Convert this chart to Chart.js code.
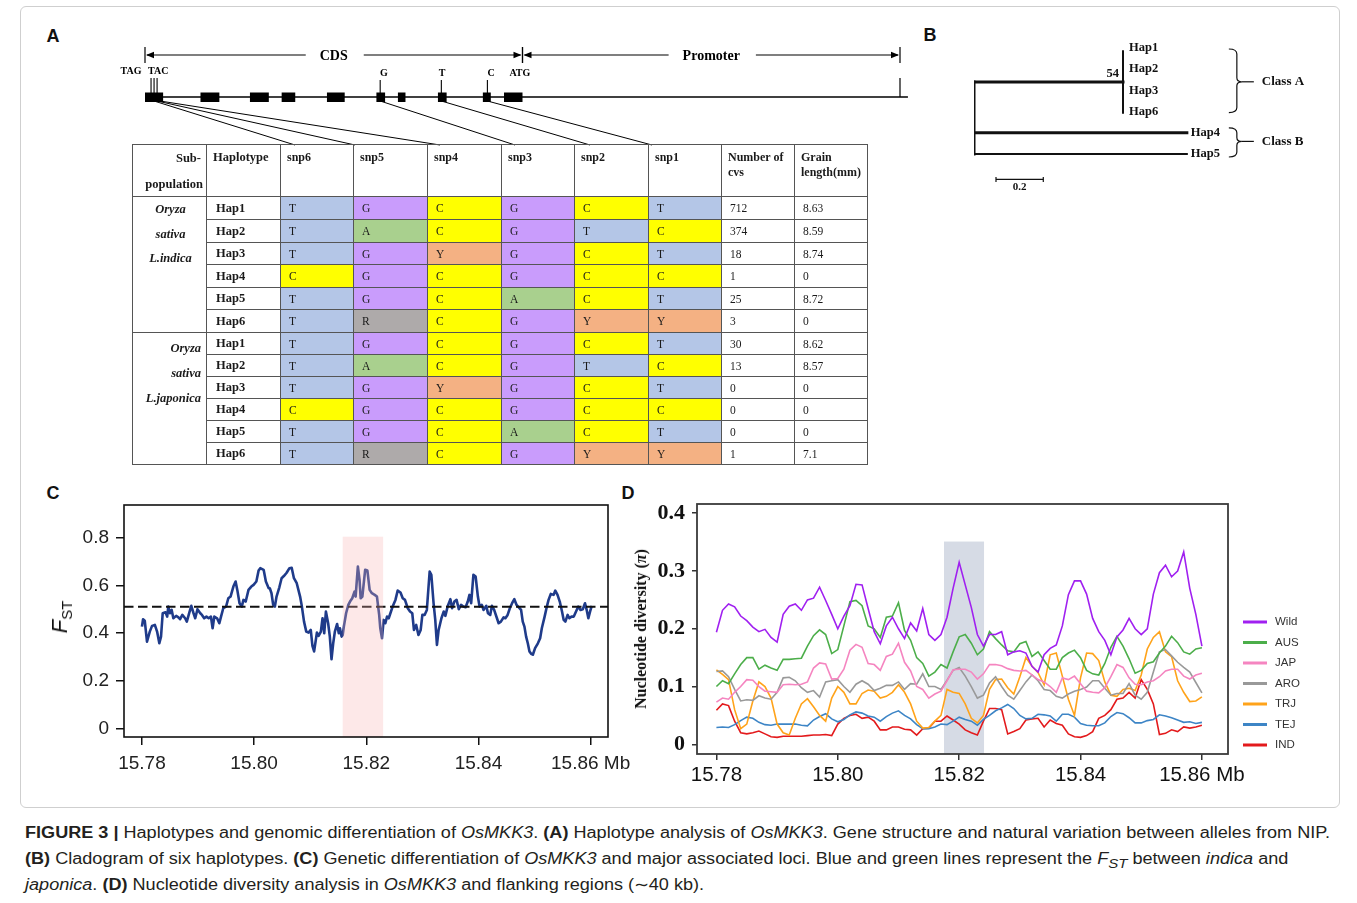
<!DOCTYPE html>
<html><head><meta charset="utf-8">
<script src="https://cdn.jsdelivr.net/npm/chart.js"></script>
<style>
html,body{margin:0;padding:0;background:#fff;}
body{width:1357px;height:903px;position:relative;overflow:hidden;font-family:'Liberation Sans',Arial,sans-serif;}
canvas{position:absolute;}
sub{line-height:0;}
.frame{position:absolute;left:20px;top:6px;width:1320px;height:802px;border:1px solid #cfcfcf;border-radius:6px;box-sizing:border-box;}
.plabel{position:absolute;font:bold 18px 'Liberation Sans',Arial,sans-serif;color:#111;transform:translate(-50%,-50%);}
#tbl{position:absolute;left:132px;top:144px;display:grid;
 grid-template-columns:74px 74px 73px 74px 74px 73px 74px 73px 73px 73px;
 grid-template-rows:52px 23px 23px 22px 23px 22px 23px 22px 22px 22px 22px 22px 22px;
 border-left:1px solid #555;border-top:1px solid #555;font-family:'Liberation Serif',serif;color:#1a1a1a;}
#tbl div.c{border-right:1px solid #555;border-bottom:1px solid #555;box-sizing:border-box;display:flex;align-items:center;padding-left:8px;font-size:11.5px;}
#tbl div.h{border-right:1px solid #555;border-bottom:1px solid #555;box-sizing:border-box;font-weight:bold;font-size:12px;line-height:15px;padding:5px 4px 0 6px;}
#tbl div.hap{font-weight:bold;font-size:12.5px;padding-left:9px;}
#tbl div.sub{border-right:1px solid #555;border-bottom:1px solid #555;box-sizing:border-box;font-weight:bold;font-style:italic;font-size:12.5px;}
#cap{position:absolute;left:25px;top:820px;transform-origin:0 0;font-size:16px;line-height:26px;color:#231f20;font-family:'Liberation Sans Narrow','Liberation Sans',Arial,sans-serif;white-space:nowrap;}
#cap div{height:26px;}
</style>
</head>
<body>
<div class="frame"></div>
<div class="plabel" style="left:53px;top:36px">A</div>
<div class="plabel" style="left:930px;top:35px">B</div>
<div class="plabel" style="left:53px;top:493px">C</div>
<div class="plabel" style="left:628px;top:493px">D</div>

<canvas id="gene" width="830" height="120" style="left:100px;top:30px"></canvas>
<canvas id="tree" width="400" height="170" style="left:940px;top:30px"></canvas>
<div id="tbl"></div>
<canvas id="fst" width="620" height="290" style="left:30px;top:495px"></canvas>
<canvas id="pi" width="720" height="300" style="left:620px;top:495px"></canvas>

<div style="position:absolute;left:60px;top:617px;transform:translate(-50%,-50%) rotate(-90deg);font:22px 'Liberation Sans',Arial;color:#111;white-space:nowrap;"><i>F</i><sub style="font-size:15px;">ST</sub></div>
<div style="position:absolute;left:641px;top:629px;transform:translate(-50%,-50%) rotate(-90deg);font:bold 16px 'Liberation Serif',serif;color:#111;white-space:nowrap;">Nucleotide diversity (<i>π</i>)</div>

<div id="cap">
<div><span id="cap1"><b>FIGURE 3 |</b> Haplotypes and genomic differentiation of <i>OsMKK3</i>. <b>(A)</b> Haplotype analysis of <i>OsMKK3</i>. Gene structure and natural variation between alleles from NIP.</span></div>
<div><span><b>(B)</b> Cladogram of six haplotypes. <b>(C)</b> Genetic differentiation of <i>OsMKK3</i> and major associated loci. Blue and green lines represent the <i>F<sub>ST</sub></i> between <i>indica</i> and</span></div>
<div><span><i>japonica</i>. <b>(D)</b> Nucleotide diversity analysis in <i>OsMKK3</i> and flanking regions (∼40 kb).</span></div>
</div>

<script>
// ---------------- DATA ----------------
// Panel A: gene structure (relative units: CDS 0-1000, promoter 1000-2000)
const regionLabels = ['CDS', 'Promoter'];
const cdsRange = [0, 1000];
const promoterRange = [1000, 2000];
const geneLineEnd = 2021;
const exonStart = [0, 147, 278, 362, 482, 613, 670, 776, 895, 951];
const exonEnd   = [48, 197, 328, 398, 529, 636, 690, 799, 916, 1000];
const snpNames  = ['snp6', 'snp5', 'snp4', 'snp3', 'snp2', 'snp1'];
const snpGenePos = [16, 24, 32, 623, 785, 907];
const codonText = ['TAG', 'TAC', 'G', 'T', 'C', 'ATG'];
const codonPos  = [-37, 35, 633, 787, 917, 993];

// Panel A: haplotype table
const hapNames = ['Hap1', 'Hap2', 'Hap3', 'Hap4', 'Hap5', 'Hap6'];
const hapAlleles = [
  ['T','G','C','G','C','T'],
  ['T','A','C','G','T','C'],
  ['T','G','Y','G','C','T'],
  ['C','G','C','G','C','C'],
  ['T','G','C','A','C','T'],
  ['T','R','C','G','Y','Y']
];
const indicaCvs = ['712','374','18','1','25','3'];
const indicaGrain = ['8.63','8.59','8.74','0','8.72','0'];
const japonicaCvs = ['30','13','0','0','0','1'];
const japonicaGrain = ['8.62','8.57','0','0','0','7.1'];

// Panel B: cladogram
const treeLeaves = ['Hap1', 'Hap2', 'Hap3', 'Hap6', 'Hap4', 'Hap5'];
const classAMembers = ['Hap1', 'Hap2', 'Hap3', 'Hap6'];
const classBMembers = ['Hap4', 'Hap5'];
const classAStem = 0.63;
const hap4Length = 0.9;
const hap5Length = 0.9;
const bootstrapA = 54;
const scaleBarLength = 0.2;

// Panel C: FST along the region
const fstXTicks = [15.78, 15.80, 15.82, 15.84, 15.86];
const fstYTicks = [0, 0.2, 0.4, 0.6, 0.8];
const fstThreshold = 0.51;
const fstHighlight = [15.8158, 15.8230];
const fstPos = [15.7800,15.7802,15.7805,15.7809,15.7814,15.7818,15.7823,15.7827,15.7831,15.7834,15.7837,15.7842,15.7845,15.7847,15.7850,15.7853,15.7856,15.7861,15.7865,15.7868,15.7872,15.7877,15.7880,15.7885,15.7888,15.7892,15.7895,15.7899,15.7904,15.7907,15.7911,15.7915,15.7919,15.7923,15.7926,15.7929,15.7934,15.7938,15.7941,15.7945,15.7950,15.7954,15.7958,15.7963,15.7967,15.7970,15.7974,15.7978,15.7981,15.7985,15.7990,15.7995,15.7999,15.8004,15.8008,15.8011,15.8017,15.8021,15.8026,15.8028,15.8031,15.8034,15.8037,15.8040,15.8045,15.8049,15.8053,15.8058,15.8063,15.8067,15.8071,15.8076,15.8082,15.8085,15.8089,15.8093,15.8097,15.8101,15.8104,15.8107,15.8112,15.8115,15.8119,15.8122,15.8125,15.8128,15.8132,15.8135,15.8138,15.8141,15.8144,15.8148,15.8151,15.8153,15.8156,15.8158,15.8160,15.8164,15.8168,15.8171,15.8175,15.8179,15.8181,15.8185,15.8188,15.8190,15.8193,15.8198,15.8202,15.8206,15.8210,15.8215,15.8219,15.8223,15.8225,15.8228,15.8231,15.8234,15.8237,15.8240,15.8243,15.8247,15.8252,15.8256,15.8261,15.8265,15.8269,15.8274,15.8278,15.8282,15.8285,15.8289,15.8293,15.8297,15.8300,15.8304,15.8308,15.8313,15.8316,15.8320,15.8323,15.8326,15.8329,15.8334,15.8338,15.8341,15.8345,15.8350,15.8353,15.8357,15.8361,15.8365,15.8369,15.8373,15.8377,15.8381,15.8384,15.8387,15.8391,15.8395,15.8399,15.8402,15.8406,15.8409,15.8414,15.8417,15.8421,15.8424,15.8428,15.8433,15.8436,15.8440,15.8445,15.8448,15.8452,15.8456,15.8460,15.8464,15.8468,15.8472,15.8476,15.8479,15.8482,15.8485,15.8488,15.8491,15.8494,15.8497,15.8501,15.8506,15.8510,15.8513,15.8518,15.8522,15.8525,15.8529,15.8534,15.8537,15.8541,15.8545,15.8549,15.8552,15.8555,15.8559,15.8562,15.8566,15.8570,15.8574,15.8578,15.8582,15.8586,15.8590,15.8593,15.8596,15.8599,15.8602];
const fstVal = [0.427,0.458,0.452,0.364,0.406,0.430,0.434,0.406,0.357,0.385,0.483,0.487,0.469,0.511,0.483,0.497,0.462,0.472,0.466,0.458,0.476,0.462,0.448,0.490,0.514,0.483,0.462,0.500,0.483,0.476,0.462,0.469,0.462,0.469,0.420,0.469,0.462,0.441,0.469,0.504,0.511,0.546,0.553,0.595,0.616,0.581,0.525,0.511,0.539,0.532,0.581,0.595,0.602,0.616,0.662,0.672,0.665,0.616,0.588,0.588,0.567,0.518,0.511,0.553,0.592,0.630,0.639,0.653,0.672,0.674,0.630,0.609,0.553,0.514,0.448,0.406,0.402,0.413,0.346,0.323,0.402,0.388,0.406,0.462,0.399,0.490,0.441,0.385,0.290,0.357,0.406,0.438,0.399,0.420,0.385,0.392,0.427,0.483,0.518,0.532,0.546,0.574,0.553,0.679,0.623,0.546,0.553,0.665,0.662,0.581,0.567,0.560,0.553,0.476,0.420,0.378,0.455,0.441,0.469,0.462,0.483,0.511,0.539,0.578,0.570,0.546,0.539,0.504,0.490,0.483,0.413,0.434,0.392,0.413,0.476,0.476,0.497,0.658,0.644,0.525,0.455,0.350,0.413,0.462,0.490,0.472,0.511,0.542,0.504,0.532,0.539,0.500,0.518,0.511,0.508,0.532,0.560,0.525,0.644,0.637,0.553,0.511,0.518,0.497,0.514,0.483,0.476,0.514,0.497,0.462,0.441,0.448,0.466,0.462,0.476,0.504,0.525,0.542,0.518,0.508,0.497,0.448,0.427,0.385,0.357,0.323,0.313,0.309,0.337,0.357,0.378,0.420,0.469,0.511,0.539,0.564,0.560,0.578,0.560,0.532,0.490,0.455,0.448,0.476,0.462,0.469,0.469,0.490,0.511,0.497,0.500,0.525,0.497,0.462,0.490,0.514];

// Panel D: nucleotide diversity
const piXTicks = [15.78, 15.80, 15.82, 15.84, 15.86];
const piYTicks = [0, 0.1, 0.2, 0.3, 0.4];
const piHighlight = [15.8175, 15.8241];
const piHighlightTop = 0.351;
const piLabels = ['Wild', 'AUS', 'JAP', 'ARO', 'TRJ', 'TEJ', 'IND'];
const piPos = [15.780,15.781,15.782,15.783,15.784,15.785,15.786,15.787,15.788,15.789,15.790,15.791,15.792,15.793,15.794,15.795,15.796,15.797,15.798,15.799,15.800,15.801,15.802,15.803,15.804,15.805,15.806,15.807,15.808,15.809,15.810,15.811,15.812,15.813,15.814,15.815,15.816,15.817,15.818,15.819,15.820,15.821,15.822,15.823,15.824,15.825,15.826,15.827,15.828,15.829,15.830,15.831,15.832,15.833,15.834,15.835,15.836,15.837,15.838,15.839,15.840,15.841,15.842,15.843,15.844,15.845,15.846,15.847,15.848,15.849,15.850,15.851,15.852,15.853,15.854,15.855,15.856,15.857,15.858,15.859,15.860];
const piWild = [0.194,0.232,0.243,0.238,0.222,0.214,0.203,0.195,0.199,0.185,0.177,0.225,0.239,0.243,0.232,0.250,0.253,0.272,0.249,0.225,0.200,0.222,0.240,0.277,0.276,0.235,0.195,0.174,0.205,0.220,0.200,0.183,0.210,0.196,0.235,0.190,0.180,0.190,0.220,0.270,0.315,0.276,0.237,0.190,0.170,0.190,0.190,0.195,0.155,0.160,0.162,0.158,0.135,0.125,0.155,0.166,0.172,0.205,0.259,0.283,0.283,0.260,0.218,0.195,0.180,0.155,0.186,0.198,0.218,0.200,0.190,0.200,0.260,0.297,0.310,0.290,0.300,0.333,0.270,0.225,0.170];
const piAUS = [0.100,0.110,0.105,0.122,0.138,0.150,0.150,0.130,0.137,0.132,0.128,0.147,0.147,0.148,0.149,0.170,0.188,0.198,0.190,0.157,0.164,0.205,0.247,0.249,0.240,0.205,0.200,0.185,0.220,0.222,0.245,0.197,0.180,0.150,0.140,0.118,0.125,0.138,0.132,0.160,0.186,0.190,0.175,0.155,0.165,0.195,0.183,0.172,0.162,0.160,0.174,0.178,0.152,0.160,0.145,0.130,0.130,0.150,0.158,0.163,0.150,0.128,0.122,0.120,0.140,0.168,0.187,0.170,0.148,0.123,0.128,0.140,0.143,0.158,0.170,0.187,0.176,0.160,0.156,0.165,0.167];
const piJAP = [0.073,0.080,0.078,0.090,0.100,0.112,0.111,0.100,0.092,0.091,0.090,0.103,0.104,0.103,0.104,0.108,0.132,0.141,0.139,0.113,0.114,0.130,0.163,0.173,0.168,0.140,0.138,0.128,0.152,0.156,0.175,0.142,0.127,0.100,0.095,0.080,0.087,0.092,0.110,0.129,0.130,0.130,0.125,0.113,0.122,0.138,0.138,0.136,0.131,0.128,0.127,0.128,0.120,0.112,0.108,0.100,0.090,0.115,0.112,0.118,0.105,0.092,0.090,0.089,0.098,0.117,0.138,0.133,0.115,0.104,0.103,0.108,0.110,0.117,0.127,0.130,0.130,0.118,0.113,0.120,0.123];
const piARO = [0.126,0.127,0.117,0.095,0.075,0.077,0.076,0.084,0.080,0.078,0.090,0.115,0.116,0.110,0.098,0.090,0.093,0.082,0.108,0.110,0.112,0.100,0.090,0.104,0.110,0.104,0.093,0.097,0.102,0.102,0.108,0.095,0.105,0.104,0.122,0.100,0.100,0.095,0.111,0.128,0.133,0.118,0.100,0.080,0.085,0.106,0.117,0.100,0.085,0.078,0.093,0.108,0.120,0.110,0.095,0.093,0.083,0.080,0.087,0.092,0.095,0.099,0.110,0.110,0.097,0.085,0.088,0.088,0.105,0.085,0.078,0.090,0.125,0.160,0.164,0.153,0.142,0.133,0.125,0.107,0.089];
const piTRJ = [0.129,0.121,0.112,0.060,0.027,0.035,0.075,0.108,0.100,0.080,0.035,0.020,0.016,0.045,0.070,0.079,0.065,0.050,0.040,0.080,0.100,0.090,0.070,0.070,0.088,0.094,0.092,0.080,0.083,0.090,0.103,0.090,0.070,0.040,0.028,0.029,0.040,0.050,0.095,0.090,0.088,0.070,0.045,0.037,0.050,0.095,0.112,0.113,0.098,0.087,0.117,0.150,0.135,0.124,0.103,0.155,0.158,0.118,0.078,0.050,0.115,0.158,0.157,0.145,0.108,0.085,0.083,0.095,0.097,0.093,0.120,0.165,0.185,0.195,0.160,0.152,0.110,0.090,0.074,0.075,0.082];
const piTEJ = [0.029,0.030,0.029,0.034,0.041,0.047,0.045,0.038,0.034,0.033,0.035,0.035,0.035,0.035,0.033,0.032,0.042,0.048,0.053,0.044,0.039,0.043,0.051,0.056,0.054,0.049,0.047,0.040,0.048,0.054,0.058,0.050,0.044,0.034,0.027,0.027,0.030,0.035,0.034,0.040,0.047,0.043,0.040,0.033,0.043,0.050,0.058,0.063,0.069,0.062,0.050,0.044,0.045,0.052,0.051,0.049,0.040,0.052,0.052,0.047,0.036,0.033,0.032,0.032,0.037,0.048,0.055,0.053,0.046,0.037,0.037,0.041,0.043,0.051,0.049,0.046,0.042,0.038,0.039,0.036,0.038];
const piIND = [0.059,0.070,0.067,0.040,0.020,0.018,0.020,0.023,0.018,0.013,0.012,0.014,0.014,0.014,0.014,0.015,0.016,0.016,0.017,0.015,0.035,0.045,0.050,0.052,0.045,0.047,0.040,0.025,0.025,0.030,0.030,0.026,0.025,0.016,0.027,0.028,0.040,0.040,0.049,0.042,0.035,0.025,0.020,0.016,0.040,0.062,0.062,0.060,0.018,0.022,0.027,0.042,0.044,0.045,0.030,0.042,0.036,0.033,0.018,0.013,0.012,0.015,0.022,0.045,0.050,0.060,0.078,0.080,0.090,0.080,0.112,0.095,0.070,0.017,0.019,0.025,0.022,0.030,0.028,0.030,0.033];

// ---------------- STYLES ----------------
const alleleColors = {T:'#b4c6e7', G:'#c99cfc', C:'#ffff00', A:'#a9d08e', Y:'#f4b183', R:'#aeaaaa'};
const piColors = ['#a020f0', '#4cae4a', '#f585c0', '#999999', '#ffa31a', '#3d85c6', '#e31a1c'];
const serif = "'Liberation Serif', 'Times New Roman', serif";
const sans = "'Liberation Sans', Arial, sans-serif";

// ---------------- TABLE ----------------
const tbl = document.getElementById('tbl');
function cell(cls, html, style){ const d=document.createElement('div'); d.className=cls; d.innerHTML=html; if(style) d.style.cssText+=style; tbl.appendChild(d); return d; }
cell('h', '<div style="text-align:right;margin-top:1px">Sub-</div><div style="text-align:right;margin-top:11px;margin-right:-2px">population</div>', 'padding:5px 5px 0 2px;font-size:12.5px');
cell('h', 'Haplotype', 'font-size:12.5px');
snpNames.forEach(n => { const d = cell('h', n); d.id = 'h-' + n; });
cell('h', 'Number of<br>cvs');
cell('h', 'Grain<br>length(mm)');
function group(label, cvs, grain, rowStart, style){
  const s = cell('sub', label, style);
  s.style.gridRow = rowStart + ' / span 6';
  s.style.gridColumn = '1';
  hapNames.forEach((h, i) => {
    const r = rowStart + i;
    const hc = cell('c hap', h); hc.style.gridRow = r; hc.style.gridColumn = 2;
    hapAlleles[i].forEach((a, j) => {
      const c = cell('c', a, 'background:' + alleleColors[a]); c.style.gridRow = r; c.style.gridColumn = 3 + j;
    });
    const c1 = cell('c', cvs[i]); c1.style.gridRow = r; c1.style.gridColumn = 9;
    const c2 = cell('c', grain[i]); c2.style.gridRow = r; c2.style.gridColumn = 10;
  });
}
group('Oryza<br>sativa<br>L.indica', indicaCvs, indicaGrain, 2, 'text-align:center;line-height:24.5px;padding-top:0px;padding-left:2px');
group('Oryza<br>sativa<br>L.japonica', japonicaCvs, japonicaGrain, 8, 'text-align:right;line-height:25px;padding-top:3px;padding-right:5px');

// ---------------- helpers ----------------
function seg(ctx, x1, y1, x2, y2, w){ ctx.lineWidth = w; ctx.beginPath(); ctx.moveTo(x1, y1); ctx.lineTo(x2, y2); ctx.stroke(); }
const framePlugin = (color, width) => ({
  id: 'frame',
  afterDraw(chart){ const {ctx, chartArea:a} = chart; ctx.save(); ctx.strokeStyle = color; ctx.lineWidth = width; ctx.strokeRect(a.left, a.top, a.right - a.left, a.bottom - a.top); ctx.restore(); }
});
const noPadX = h => ax => { ax.height = h; ax.paddingLeft = 0; ax.paddingRight = 0; };
const noPadY = w => ax => { ax.width = w; ax.paddingTop = 0; ax.paddingBottom = 0; };

// ---------------- GENE STRUCTURE (A) ----------------
const snpTargetOffset = [14, 1, 12, 13, 15, 3];
const geneOverlay = {
  id: 'geneOverlay',
  afterDraw(chart){
    const {ctx} = chart; const X = v => chart.scales.x.getPixelForValue(v); const Y = v => chart.scales.y.getPixelForValue(v);
    ctx.save(); ctx.strokeStyle = '#000'; ctx.fillStyle = '#000';
    const arrow = (xt, y, dir) => { ctx.beginPath(); ctx.moveTo(xt, y); ctx.lineTo(xt - dir*8, y - 3.2); ctx.lineTo(xt - dir*8, y + 3.2); ctx.closePath(); ctx.fill(); };
    const yr = Y(55);
    [cdsRange, promoterRange].forEach((r, i) => {
      const xa = X(r[0]), xb = X(r[1]);
      seg(ctx, xa, Y(47), xa, Y(63), 1.2); seg(ctx, xb, Y(47), xb, Y(63), 1.2);
      ctx.font = "bold 14px " + serif;
      const lab = regionLabels[i]; const tw = ctx.measureText(lab).width; const xc = (xa + xb) / 2;
      seg(ctx, xa + 2, yr, xc - tw/2 - 14, yr, 1.2); seg(ctx, xc + tw/2 + 16, yr, xb - 2, yr, 1.2);
      arrow(xa + 1, yr, -1); arrow(xb - 1, yr, 1);
      ctx.textAlign = 'center'; ctx.textBaseline = 'middle'; ctx.fillText(lab, xc, yr + 1);
    });
    seg(ctx, X(cdsRange[0]), Y(97), X(geneLineEnd), Y(97), 1.4);
    seg(ctx, X(promoterRange[1]), Y(78), X(promoterRange[1]), Y(97), 1.2);
    exonStart.forEach((s, i) => ctx.fillRect(X(s), Y(92.5), X(exonEnd[i]) - X(s), 9.5));
    snpGenePos.forEach((p, i) => seg(ctx, X(p), Y(i < 3 ? 78 : 80), X(p), Y(93), 1.1));
    ctx.font = "bold 10px " + serif; ctx.textAlign = 'center'; ctx.textBaseline = 'middle';
    codonText.forEach((t, i) => ctx.fillText(t, X(codonPos[i]), Y(i < 2 ? 71.5 : 73.5)));
    const cr = chart.canvas.getBoundingClientRect();
    snpNames.forEach((n, i) => {
      const el = document.getElementById('h-' + n); if (!el) return;
      const tx = el.getBoundingClientRect().left - cr.left + snpTargetOffset[i];
      seg(ctx, X(snpGenePos[i]) + (i < 3 ? 3 : 0), Y(101), tx, Y(145), 1);
    });
    ctx.restore();
  }
};
new Chart(document.getElementById('gene'), {
  type: 'scatter',
  data: { datasets: [{ data: [] }] },
  options: {
    responsive: false, animation: false, devicePixelRatio: 1,
    layout: { padding: { left: 45, right: 30, top: 0, bottom: 0 } },
    plugins: { legend: { display: false }, tooltip: { enabled: false } },
    scales: {
      x: { type: 'linear', min: 0, max: 2000, display: false },
      y: { type: 'linear', min: 30, max: 150, reverse: true, display: false }
    }
  },
  plugins: [geneOverlay]
});

// ---------------- CLADOGRAM (B) ----------------
const leafY = name => treeLeaves.indexOf(name);
const nodeAY = classAMembers.reduce((s, n) => s + leafY(n), 0) / classAMembers.length + 0.1;
const treeSegs = [
  { pts: [[0, nodeAY], [0, leafY('Hap5')]], w: 3 },
  { pts: [[0, nodeAY], [classAStem, nodeAY]], w: 3 },
  { pts: [[classAStem, leafY(classAMembers[0]) + 0.15], [classAStem, leafY(classAMembers[classAMembers.length - 1]) + 0.05]], w: 2 },
  { pts: [[0, leafY('Hap4')], [hap4Length, leafY('Hap4')]], w: 3 },
  { pts: [[0, leafY('Hap5')], [hap5Length, leafY('Hap5')]], w: 2 }
];
const treeOverlay = {
  id: 'treeOverlay',
  afterDraw(chart){
    const {ctx} = chart; const X = v => chart.scales.x.getPixelForValue(v); const Y = v => chart.scales.y.getPixelForValue(v);
    ctx.save(); ctx.fillStyle = '#111'; ctx.strokeStyle = '#111';
    ctx.font = "bold 12.5px " + serif; ctx.textBaseline = 'middle'; ctx.textAlign = 'left';
    classAMembers.forEach(n => ctx.fillText(n, X(classAStem) + 6, Y(leafY(n))));
    ctx.fillText('Hap4', X(hap4Length) + 4, Y(leafY('Hap4')));
    ctx.fillText('Hap5', X(hap5Length) + 4, Y(leafY('Hap5')));
    ctx.textAlign = 'right'; ctx.fillText(String(bootstrapA), X(classAStem) - 4, Y(nodeAY) - 8);
    const bx = X(Math.max(hap4Length, hap5Length)) + 42;
    const brace = (top, bot, mid, label) => {
      ctx.lineWidth = 1.2; ctx.beginPath();
      ctx.moveTo(bx, top); ctx.quadraticCurveTo(bx + 8, top, bx + 8, top + 5);
      ctx.lineTo(bx + 8, mid - 4); ctx.quadraticCurveTo(bx + 8, mid, bx + 13, mid);
      ctx.quadraticCurveTo(bx + 8, mid, bx + 8, mid + 4);
      ctx.lineTo(bx + 8, bot - 5); ctx.quadraticCurveTo(bx + 8, bot, bx, bot); ctx.stroke();
      seg(ctx, bx + 13, mid, bx + 25, mid, 1.2);
      ctx.font = "bold 13px " + serif; ctx.textAlign = 'left'; ctx.fillText(label, bx + 33, mid);
    };
    const aTop = Y(leafY(classAMembers[0])) + 1, aBot = Y(leafY(classAMembers[classAMembers.length - 1])) + 1;
    brace(aTop, aBot, (aTop + aBot) / 2 + 1, 'Class A');
    const bTop = Y(leafY(classBMembers[0])) - 5, bBot = Y(leafY(classBMembers[1])) + 3;
    brace(bTop, bBot, (bTop + bBot) / 2 - 1, 'Class B');
    const sy = Y(6.2), sx0 = X(0.093), sx1 = X(0.093 + scaleBarLength);
    seg(ctx, sx0, sy, sx1, sy, 1.3); seg(ctx, sx0, sy - 2.5, sx0, sy + 2.5, 1.2); seg(ctx, sx1, sy - 2.5, sx1, sy + 2.5, 1.2);
    ctx.font = "bold 11px " + serif; ctx.textAlign = 'center'; ctx.fillText(String(scaleBarLength), (sx0 + sx1) / 2, sy + 8);
    ctx.restore();
  }
};
new Chart(document.getElementById('tree'), {
  type: 'scatter',
  data: { datasets: treeSegs.map(s => ({ data: s.pts.map(p => ({x: p[0], y: p[1]})), showLine: true, borderColor: '#111', borderWidth: s.w, pointRadius: 0, borderCapStyle: 'square' })) },
  options: {
    responsive: false, animation: false, devicePixelRatio: 1,
    layout: { padding: { left: 34, right: 11.25, top: 0, bottom: 0 } },
    plugins: { legend: { display: false }, tooltip: { enabled: false } },
    scales: {
      x: { type: 'linear', min: 0, max: 1.5, display: false },
      y: { type: 'linear', min: -0.849, max: 7.17, reverse: true, display: false }
    }
  },
  plugins: [treeOverlay]
});

// ---------------- FST (C) ----------------
const fstBand = {
  id: 'fstBand',
  afterDatasetsDraw(chart){
    const {ctx, chartArea:a, scales:{x, y}} = chart;
    ctx.save(); ctx.fillStyle = 'rgba(248,178,178,0.3)';
    const x0 = x.getPixelForValue(fstHighlight[0]), x1 = x.getPixelForValue(fstHighlight[1]);
    ctx.fillRect(x0, y.getPixelForValue(0.804), x1 - x0, a.bottom - y.getPixelForValue(0.804));
    ctx.restore();
  }
};
new Chart(document.getElementById('fst'), {
  type: 'line',
  data: { datasets: [
    { data: [{x: 15.7768, y: fstThreshold}, {x: 15.8631, y: fstThreshold}], borderColor: '#111', borderWidth: 2, borderDash: [9.5, 4.5], pointRadius: 0 },
    { data: fstPos.map((x, i) => ({x, y: fstVal[i]})), borderColor: '#1f3b8a', borderWidth: 2.6, pointRadius: 0, tension: 0, borderJoinStyle: 'round' }
  ]},
  options: {
    responsive: false, animation: false, devicePixelRatio: 1,
    layout: { padding: { top: 10, right: 42, left: 0, bottom: 0 } },
    plugins: { legend: { display: false }, tooltip: { enabled: false } },
    scales: {
      x: { type: 'linear', min: 15.7768, max: 15.8631,
        afterBuildTicks: ax => { ax.ticks = fstXTicks.map(v => ({value: v})); },
        ticks: { autoSkip: false, maxRotation: 0, padding: 7, color: '#222', font: { family: sans, size: 19 },
          callback: (v, i, arr) => i === arr.length - 1 ? v.toFixed(2) + ' Mb' : v.toFixed(2) },
        grid: { drawOnChartArea: false, drawTicks: true, tickLength: 8, color: '#111', lineWidth: 1.5 },
        border: { display: false },
        afterFit: noPadX(48) },
      y: { type: 'linear', min: -0.036, max: 0.937,
        afterBuildTicks: ax => { ax.ticks = fstYTicks.map(v => ({value: v})); },
        ticks: { autoSkip: false, padding: 7, color: '#222', font: { family: sans, size: 19 },
          callback: v => v === 0 ? '0' : v.toFixed(1) },
        grid: { drawOnChartArea: false, drawTicks: true, tickLength: 8, color: '#111', lineWidth: 1.5 },
        border: { display: false },
        afterFit: noPadY(94) }
    }
  },
  plugins: [fstBand, framePlugin('#111', 1.6)]
});

// ---------------- NUCLEOTIDE DIVERSITY (D) ----------------
const piSeries = [piWild, piAUS, piJAP, piARO, piTRJ, piTEJ, piIND];
const piBand = {
  id: 'piBand',
  beforeDatasetsDraw(chart){
    const {ctx, chartArea:a, scales:{x, y}} = chart;
    ctx.save(); ctx.fillStyle = '#d6dbe5';
    const x0 = x.getPixelForValue(piHighlight[0]), x1 = x.getPixelForValue(piHighlight[1]);
    const yt = y.getPixelForValue(piHighlightTop);
    ctx.fillRect(x0, yt, x1 - x0, a.bottom - yt);
    ctx.restore();
  }
};
const piLegend = {
  id: 'piLegend',
  afterDraw(chart){
    const {ctx, chartArea:a} = chart;
    const x0 = a.right + 15, y0 = a.top + 118;
    ctx.save();
    chart.data.datasets.forEach((ds, i) => {
      const y = y0 + i * 20.5;
      ctx.strokeStyle = ds.borderColor; seg(ctx, x0, y, x0 + 24, y, 3);
      ctx.fillStyle = '#333'; ctx.font = "11.5px " + sans; ctx.textBaseline = 'middle'; ctx.textAlign = 'left';
      ctx.fillText(ds.label, x0 + 32, y);
    });
    ctx.restore();
  }
};
new Chart(document.getElementById('pi'), {
  type: 'line',
  data: { datasets: piSeries.map((s, k) => ({
    label: piLabels[k], data: piPos.map((x, i) => ({x, y: s[i]})),
    borderColor: piColors[k], borderWidth: 1.6, pointRadius: 0, tension: 0
  })) },
  options: {
    responsive: false, animation: false, devicePixelRatio: 1,
    layout: { padding: { top: 9, right: 112, left: 0, bottom: 0 } },
    plugins: { legend: { display: false }, tooltip: { enabled: false } },
    scales: {
      x: { type: 'linear', min: 15.7768, max: 15.8643,
        afterBuildTicks: ax => { ax.ticks = piXTicks.map(v => ({value: v})); },
        ticks: { autoSkip: false, maxRotation: 0, padding: 3, color: '#111', font: { family: sans, size: 20.5 },
          callback: (v, i, arr) => i === arr.length - 1 ? v.toFixed(2) + ' Mb' : v.toFixed(2) },
        grid: { drawOnChartArea: false, drawTicks: true, tickLength: 6, color: '#333', lineWidth: 1.5 },
        border: { display: false },
        afterFit: noPadX(41) },
      y: { type: 'linear', min: -0.0168, max: 0.416,
        afterBuildTicks: ax => { ax.ticks = piYTicks.map(v => ({value: v})); },
        ticks: { autoSkip: false, padding: 7, color: '#111', font: { family: serif, size: 22, weight: 'bold' },
          callback: v => v === 0 ? '0' : v.toFixed(1) },
        grid: { drawOnChartArea: false, drawTicks: true, tickLength: 5, color: '#333', lineWidth: 1.5 },
        border: { display: false },
        afterFit: noPadY(77) }
    }
  },
  plugins: [piBand, framePlugin('#3a3a3a', 1.8), piLegend]
});

// ---------------- caption fit ----------------
const cap = document.getElementById('cap');
const w1 = document.getElementById('cap1').getBoundingClientRect().width;
cap.style.transform = 'scaleX(' + (1305 / w1) + ')';
</script>
</body></html>
